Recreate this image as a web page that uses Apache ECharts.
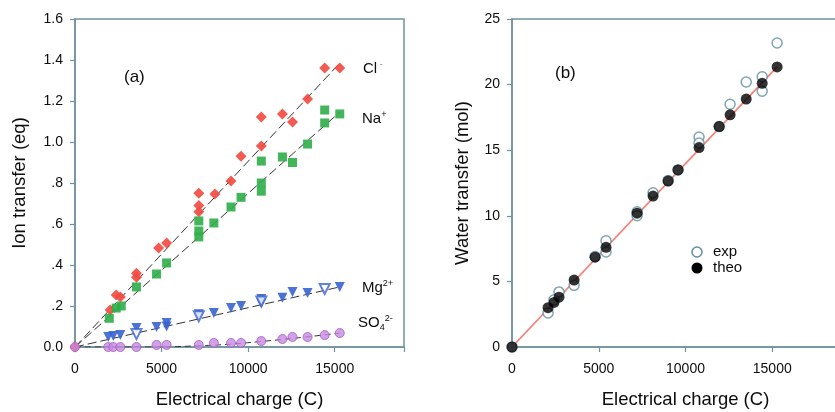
<!DOCTYPE html>
<html><head><meta charset="utf-8">
<script src="https://cdn.jsdelivr.net/npm/echarts@6/dist/echarts.min.js"></script>
<style>html,body{margin:0;padding:0;background:#fff}#c{width:835px;height:412px}</style>
</head><body><div id="c"></div>
<script>
// ---------- Panel (a): ion transfer ----------
const clX = [0, 2030, 2380, 2620, 3550, 3550, 4830, 5290, 7150, 7150, 7150, 8080, 9010, 9590, 10760, 10760, 11980, 12560, 13430, 14420, 15290];
const clY = [0, 0.18, 0.254, 0.244, 0.36, 0.34, 0.483, 0.507, 0.75, 0.69, 0.66, 0.746, 0.81, 0.93, 1.122, 0.98, 1.137, 1.098, 1.21, 1.361, 1.361];
const naX = [1980, 2380, 2670, 3550, 4710, 5290, 7150, 7150, 7150, 8020, 9010, 9590, 10760, 10760, 10760, 11980, 12560, 13430, 14420, 14420, 15290];
const naY = [0.14, 0.19, 0.20, 0.293, 0.356, 0.41, 0.615, 0.566, 0.537, 0.605, 0.683, 0.73, 0.907, 0.80, 0.76, 0.927, 0.90, 0.99, 1.156, 1.093, 1.137];
const mgX = [1920, 2210, 2620, 3550, 4710, 5290, 5290, 7150, 8020, 9010, 9590, 10760, 10760, 11980, 12560, 13430, 15290];
const mgY = [0.049, 0.054, 0.058, 0.093, 0.098, 0.117, 0.10, 0.16, 0.166, 0.19, 0.20, 0.234, 0.215, 0.24, 0.268, 0.263, 0.293];
const mgOpenX = [3550, 7150, 10760, 14420];
const mgOpenY = [0.063, 0.15, 0.222, 0.283];
const so4X = [0, 1920, 2210, 2620, 3550, 4710, 5290, 7150, 8020, 9010, 9590, 10760, 11980, 12560, 13430, 14420, 15290];
const so4Y = [0, 0.0, 0.0, 0.0, 0.0, 0.01, 0.01, 0.01, 0.02, 0.02, 0.02, 0.029, 0.039, 0.049, 0.049, 0.058, 0.068];
// fitted lines (a)
const clFitX = [0, 15290], clFitY = [0, 1.385];
const naFitX = [0, 15290], naFitY = [0, 1.146];
const mgFitX = [0, 15290], mgFitY = [0, 0.293];
const so4FitX = [0, 3550, 7150, 10760, 15290], so4FitY = [0, 0.0, 0.006, 0.027, 0.068];
const aYTicks = ['0.0', '.2', '.4', '.6', '.8', '1.0', '1.2', '1.4', '1.6'];

// ---------- Panel (b): water transfer ----------
const expX = [0, 2080, 2420, 2710, 3580, 4790, 5420, 5420, 7210, 7210, 8130, 9000, 9570, 10780, 10780, 11940, 12570, 13500, 14420, 14420, 15280];
const expY = [0, 2.6, 3.6, 4.2, 4.7, 6.9, 8.1, 7.25, 10.3, 10.0, 11.75, 12.7, 13.5, 16.0, 15.55, 16.8, 18.5, 20.2, 20.6, 19.5, 23.17];
const theoX = [0, 2080, 2420, 2710, 3580, 4790, 5420, 7210, 8130, 9000, 9570, 10780, 11940, 12570, 13500, 14420, 15280];
const theoY = [0, 3.0, 3.4, 3.8, 5.1, 6.85, 7.6, 10.2, 11.5, 12.65, 13.5, 15.2, 16.8, 17.7, 18.9, 20.1, 21.35];
const bFitX = [0, 15280], bFitY = [0, 21.35];

const zip = (xs, ys) => xs.map((x, i) => [x, ys[i]]);
const FONT = 'Liberation Sans, Arial, sans-serif';
const AX = '#6f929f';
const TXT = '#0d0d0d';

function xAxis(idx, max) {
  return {
    gridIndex: idx, type: 'value', min: 0, max: max, interval: 5000,
    name: 'Electrical charge (C)', nameLocation: 'middle', nameGap: 43,
    nameTextStyle: {fontFamily: FONT, fontSize: 18.5, color: TXT},
    axisLine: {show: true, lineStyle: {color: AX, width: 1.5}},
    axisTick: {show: true, length: 5, lineStyle: {color: AX, width: 1.2}},
    axisLabel: {fontFamily: FONT, fontSize: 14, color: TXT, margin: 15,
      formatter: v => (v % 5000 === 0 ? String(v) : '')},
    splitLine: {show: false}
  };
}

const option = {
  animation: false,
  backgroundColor: '#fff',
  grid: [
    {left: 75, right: 431, top: 19, bottom: 65, show: true, borderColor: AX, borderWidth: 1.5, outerBoundsMode: 'none', containLabel: false},
    {left: 512, right: -24, top: 19, bottom: 65, show: true, borderColor: AX, borderWidth: 1.5, outerBoundsMode: 'none', containLabel: false}
  ],
  xAxis: [xAxis(0, 19000), xAxis(1, 20000)],
  yAxis: [
    {gridIndex: 0, type: 'value', min: 0, max: 1.6, interval: 0.2,
      name: 'Ion transfer (eq)', nameLocation: 'middle', nameGap: 46,
      nameTextStyle: {fontFamily: FONT, fontSize: 18.5, color: TXT},
      axisLine: {show: true, lineStyle: {color: AX, width: 1.5}},
      axisTick: {show: true, length: 5, lineStyle: {color: AX, width: 1.2}},
      axisLabel: {fontFamily: FONT, fontSize: 14, color: TXT, margin: 12,
        formatter: v => aYTicks[Math.round(v / 0.2)]},
      splitLine: {show: false}},
    {gridIndex: 1, type: 'value', min: 0, max: 25, interval: 5,
      name: 'Water transfer (mol)', nameLocation: 'middle', nameGap: 40,
      nameTextStyle: {fontFamily: FONT, fontSize: 18.5, color: TXT},
      axisLine: {show: true, lineStyle: {color: AX, width: 1.5}},
      axisTick: {show: true, length: 5, lineStyle: {color: AX, width: 1.2}},
      axisLabel: {fontFamily: FONT, fontSize: 14, color: TXT, margin: 12},
      splitLine: {show: false}}
  ],
  series: [
    // fit lines (a)
    {type: 'line', xAxisIndex: 0, yAxisIndex: 0, data: zip(clFitX, clFitY), symbol: 'none', z: 1,
      lineStyle: {color: '#333', width: 1, type: [9, 4]}},
    {type: 'line', xAxisIndex: 0, yAxisIndex: 0, data: zip(naFitX, naFitY), symbol: 'none', z: 1,
      lineStyle: {color: '#333', width: 1, type: [9, 4]}},
    {type: 'line', xAxisIndex: 0, yAxisIndex: 0, data: zip(mgFitX, mgFitY), symbol: 'none', z: 1,
      lineStyle: {color: '#333', width: 1, type: [9, 4]}},
    {type: 'line', xAxisIndex: 0, yAxisIndex: 0, data: zip(so4FitX, so4FitY), symbol: 'none', z: 1, smooth: true,
      lineStyle: {color: '#333', width: 1, type: [6, 4]}},
    // markers (a)
    {type: 'scatter', xAxisIndex: 0, yAxisIndex: 0, data: zip(clX, clY), symbol: 'diamond', symbolSize: 11, z: 3,
      itemStyle: {color: '#f2493f', opacity: 0.9}},
    {type: 'scatter', xAxisIndex: 0, yAxisIndex: 0, data: zip(naX, naY), symbol: 'rect', symbolSize: 9, z: 3,
      itemStyle: {color: '#2fae49', opacity: 0.9}},
    {type: 'scatter', xAxisIndex: 0, yAxisIndex: 0, data: zip(mgX, mgY), symbol: 'triangle', symbolRotate: 180, symbolSize: 10, z: 3,
      itemStyle: {color: '#3a63d0', opacity: 0.9}},
    {type: 'scatter', xAxisIndex: 0, yAxisIndex: 0, data: zip(mgOpenX, mgOpenY), symbol: 'emptyTriangle', symbolRotate: 180, symbolSize: 10, z: 3,
      itemStyle: {color: '#3a63d0', borderColor: '#3a63d0', borderWidth: 1.5}},
    {type: 'scatter', xAxisIndex: 0, yAxisIndex: 0, data: zip(so4X, so4Y), symbol: 'circle', symbolSize: 9, z: 3,
      itemStyle: {color: '#c88ae0', borderColor: '#a45cc8', borderWidth: 1}},
    // panel (b)
    {type: 'line', xAxisIndex: 1, yAxisIndex: 1, data: zip(bFitX, bFitY), symbol: 'none', z: 1,
      lineStyle: {color: '#f2847a', width: 1.8}},
    {type: 'scatter', xAxisIndex: 1, yAxisIndex: 1, data: zip(expX, expY), symbol: 'circle', symbolSize: 10, z: 2,
      itemStyle: {color: '#fff', borderColor: '#5f8fa3', borderWidth: 1.5}},
    {type: 'scatter', xAxisIndex: 1, yAxisIndex: 1, data: zip(theoX, theoY), symbol: 'circle', symbolSize: 11, z: 3,
      itemStyle: {color: '#000'}}
  ],
  graphic: [
    {type: 'text', left: 124, top: 69, style: {text: '(a)', font: '17px ' + FONT, fill: TXT}},
    {type: 'text', left: 555, top: 65, style: {text: '(b)', font: '17px ' + FONT, fill: TXT}},
    {type: 'text', left: 363, top: 60, style: {text: 'Cl{sup| -}', font: '15px ' + FONT, fill: TXT,
      rich: {sup: {fontSize: 9, padding: [0, 0, 9, 0], fill: '#5f8fa3'}}}},
    {type: 'text', left: 362, top: 110, style: {text: 'Na{sup|+}', font: '15px ' + FONT, fill: TXT,
      rich: {sup: {fontSize: 9, padding: [0, 0, 9, 0], fill: TXT}}}},
    {type: 'text', left: 362, top: 279, style: {text: 'Mg{sup|2+}', font: '15px ' + FONT, fill: TXT,
      rich: {sup: {fontSize: 9, padding: [0, 0, 9, 0], fill: TXT}}}},
    {type: 'text', left: 358, top: 314, style: {text: 'SO{sub|4}{sup|2-}', font: '15px ' + FONT, fill: TXT,
      rich: {sub: {fontSize: 9, padding: [9, 0, 0, 0], fill: TXT}, sup: {fontSize: 9, padding: [0, 0, 9, 0], fill: TXT}}}},
    // legend (b)
    {type: 'circle', shape: {cx: 697, cy: 252, r: 5}, style: {fill: '#fff', stroke: '#5f8fa3', lineWidth: 1.5}},
    {type: 'circle', shape: {cx: 697, cy: 268, r: 5.5}, style: {fill: '#000'}},
    {type: 'text', left: 713, top: 244, style: {text: 'exp', font: '15px ' + FONT, fill: TXT}},
    {type: 'text', left: 713, top: 260, style: {text: 'theo', font: '15px ' + FONT, fill: TXT}}
  ]
};
const chart = echarts.init(document.getElementById('c'), null, {renderer: 'canvas'});
chart.setOption(option);
</script></body></html>
